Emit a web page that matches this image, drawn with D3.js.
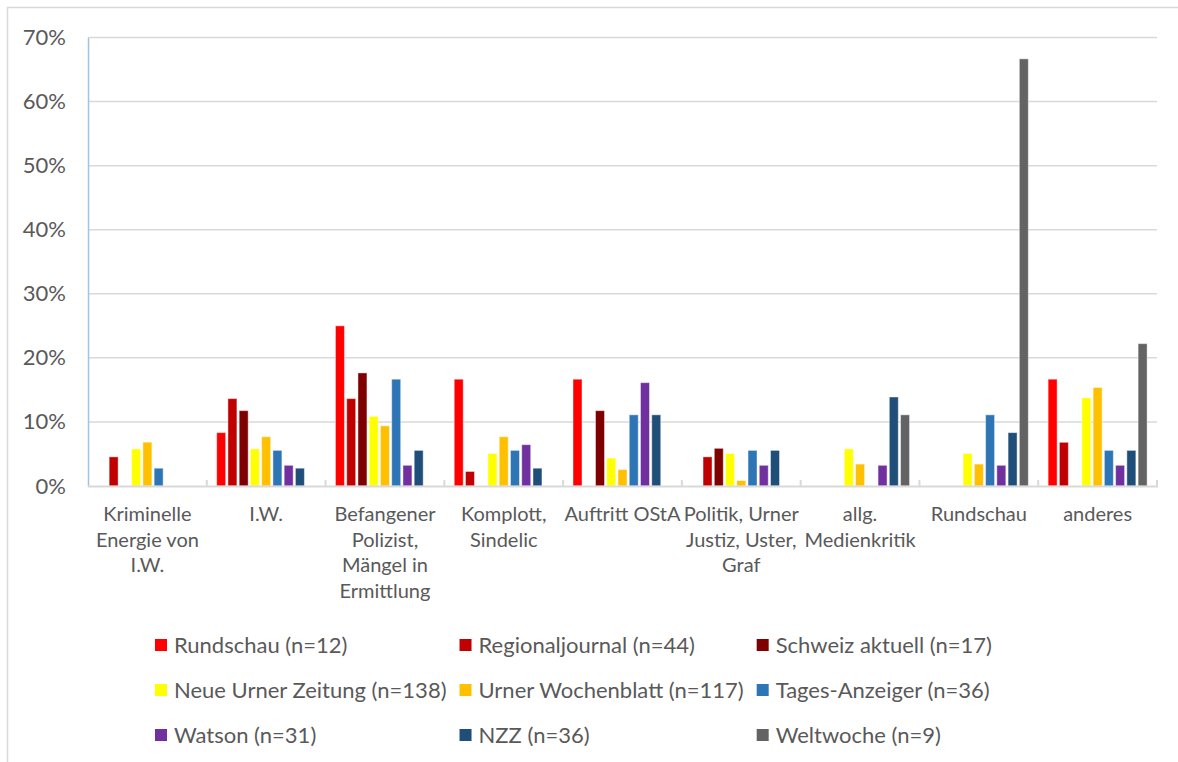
<!DOCTYPE html>
<html>
<head>
<meta charset="utf-8">
<script src="https://cdn.jsdelivr.net/npm/d3@7"></script>
<style>
  html, body { margin: 0; padding: 0; background: #ffffff; }
  svg { display: block; }
  text { font-family: Lato, "Open Sans", sans-serif; fill: #595959; }
</style>
</head>
<body>
<svg id="chart" width="1178" height="762"></svg>
<script>
// Kategorien (Zeilenumbrüche wie in der Achsenbeschriftung)
const categories = [
  "Kriminelle\nEnergie von\nI.W.",
  "I.W.",
  "Befangener\nPolizist,\nMängel in\nErmittlung",
  "Komplott,\nSindelic",
  "Auftritt OStA",
  "Politik, Urner\nJustiz, Uster,\nGraf",
  "allg.\nMedienkritik",
  "Rundschau",
  "anderes"
];

// Anteile in Prozent je Medium
const rundschau        = [0, 8.33, 25.00, 16.67, 16.67, 0, 0, 0, 16.67];
const regionaljournal  = [4.55, 13.64, 13.64, 2.27, 0, 4.55, 0, 0, 6.82];
const schweizAktuell   = [0, 11.76, 17.65, 0, 11.76, 5.88, 0, 0, 0];
const neueUrnerZeitung = [5.80, 5.80, 10.87, 5.07, 4.35, 5.07, 5.80, 5.07, 13.77];
const urnerWochenblatt = [6.84, 7.69, 9.40, 7.69, 2.56, 0.85, 3.42, 3.42, 15.38];
const tagesAnzeiger    = [2.78, 5.56, 16.67, 5.56, 11.11, 5.56, 0, 11.11, 5.56];
const watson           = [0, 3.23, 3.23, 6.45, 16.13, 3.23, 3.23, 3.23, 3.23];
const nzz              = [0, 2.78, 5.56, 2.78, 11.11, 5.56, 13.89, 8.33, 5.56];
const weltwoche        = [0, 0, 0, 0, 0, 0, 11.11, 66.67, 22.22];

const seriesNames = [
  "Rundschau (n=12)", "Regionaljournal (n=44)", "Schweiz aktuell (n=17)",
  "Neue Urner Zeitung (n=138)", "Urner Wochenblatt (n=117)", "Tages-Anzeiger (n=36)",
  "Watson (n=31)", "NZZ (n=36)", "Weltwoche (n=9)"
];
const seriesValues = [rundschau, regionaljournal, schweizAktuell, neueUrnerZeitung,
  urnerWochenblatt, tagesAnzeiger, watson, nzz, weltwoche];
const seriesColors = ["#ff0000", "#c00000", "#7f0000", "#ffff00", "#ffc000",
  "#2e75b6", "#7030a0", "#1f4e79", "#636363"];

const yTicks = [0, 10, 20, 30, 40, 50, 60, 70];

const svg = d3.select("#chart");

// Rahmen des Diagrammbereichs
svg.append("rect")
  .attr("x", 7.5).attr("y", 7.5)
  .attr("width", 1200).attr("height", 800)
  .attr("fill", "none").attr("stroke", "#d9d9d9").attr("stroke-width", 1.5);

const plot = { left: 88, right: 1157, top: 37.5, bottom: 486 };

const x0 = d3.scaleBand().domain(categories).range([plot.left, plot.right]).padding(0);
const x1 = d3.scaleBand().domain(seriesNames).range([0, x0.bandwidth()])
  .paddingInner(0.2).paddingOuter(0.88);
const y = d3.scaleLinear().domain([0, 70]).range([plot.bottom, plot.top]);

// Gitterlinien
svg.append("g").selectAll("line")
  .data(yTicks.filter(d => d > 0))
  .join("line")
  .attr("x1", plot.left).attr("x2", plot.right)
  .attr("y1", d => y(d)).attr("y2", d => y(d))
  .attr("stroke", "#d9d9d9").attr("stroke-width", 1.5);

// Y-Achse mit Prozentbeschriftung
const yAxis = d3.axisLeft(y).tickValues(yTicks).tickFormat(d => d + "%").tickSize(0).tickPadding(22);
const gy = svg.append("g").attr("transform", `translate(${plot.left},0)`).call(yAxis);
gy.select(".domain").attr("stroke", "#9dc3e6").attr("stroke-width", 1.5);
gy.selectAll("text").style("font-size", "22px").attr("fill", "#595959")
  .style("font-family", "Lato, 'Open Sans', sans-serif");

// Balken
const groups = svg.append("g").selectAll("g")
  .data(categories)
  .join("g")
  .attr("transform", d => `translate(${x0(d)},0)`);

groups.selectAll("rect")
  .data((c, ci) => seriesNames.map((s, si) => ({ s, si, v: seriesValues[si][ci] })))
  .join("rect")
  .filter(d => d.v > 0)
  .attr("x", d => x1(d.s))
  .attr("width", x1.bandwidth())
  .attr("y", d => y(d.v))
  .attr("height", d => y(0) - y(d.v))
  .attr("fill", d => seriesColors[d.si])
  .attr("stroke", "#ffffff").attr("stroke-opacity", 0.45).attr("stroke-width", 1);

// X-Achse
const xAxisG = svg.append("g");
xAxisG.append("line")
  .attr("x1", plot.left).attr("x2", plot.right + 1)
  .attr("y1", plot.bottom + 0.5).attr("y2", plot.bottom + 0.5)
  .attr("stroke", "#d9d9d9").attr("stroke-width", 2);
const boundaries = categories.map(c => x0(c)).concat([plot.right]);
xAxisG.selectAll("line.tick")
  .data(boundaries.slice(1))
  .join("line")
  .attr("class", "tick")
  .attr("x1", d => d).attr("x2", d => d)
  .attr("y1", plot.bottom - 6).attr("y2", plot.bottom + 1)
  .attr("stroke", "#d9d9d9").attr("stroke-width", 2);

// Kategorienbeschriftung, mehrzeilig und zentriert unter jeder Gruppe
const labels = svg.append("g").selectAll("text")
  .data(categories)
  .join("text")
  .attr("text-anchor", "middle")
  .style("font-size", "20px")
  .attr("transform", d => `translate(${x0(d) + x0.bandwidth() / 2},521)`);
labels.selectAll("tspan")
  .data(d => d.split("\n"))
  .join("tspan")
  .attr("x", 0)
  .attr("y", (d, i) => i * 25.5)
  .text(d => d);

// Legende: 3 Spalten x 3 Zeilen, Spaltenbreite nach längstem Eintrag
const legend = svg.append("g");
const nCols = 3, rowY0 = 645, rowStep = 45, swatch = 12, legendX0 = 155, textGap = 7, colGap = 13;
const items = legend.selectAll("g")
  .data(seriesNames)
  .join("g");
items.append("rect")
  .attr("width", swatch).attr("height", swatch)
  .attr("y", -swatch / 2)
  .attr("fill", (d, i) => seriesColors[i]);
items.append("text")
  .attr("x", swatch + textGap)
  .attr("dy", "0.35em")
  .style("font-size", "22px")
  .text(d => d);

const colWidths = d3.range(nCols).map(c =>
  d3.max(items.filter((d, i) => i % nCols === c).select("text").nodes(), n => n.getComputedTextLength()));
const colX = [legendX0];
for (let c = 1; c < nCols; c++) colX.push(colX[c - 1] + swatch + textGap + colWidths[c - 1] + colGap);
items.attr("transform", (d, i) => `translate(${colX[i % nCols]},${rowY0 + Math.floor(i / nCols) * rowStep})`);
</script>
</body>
</html>
